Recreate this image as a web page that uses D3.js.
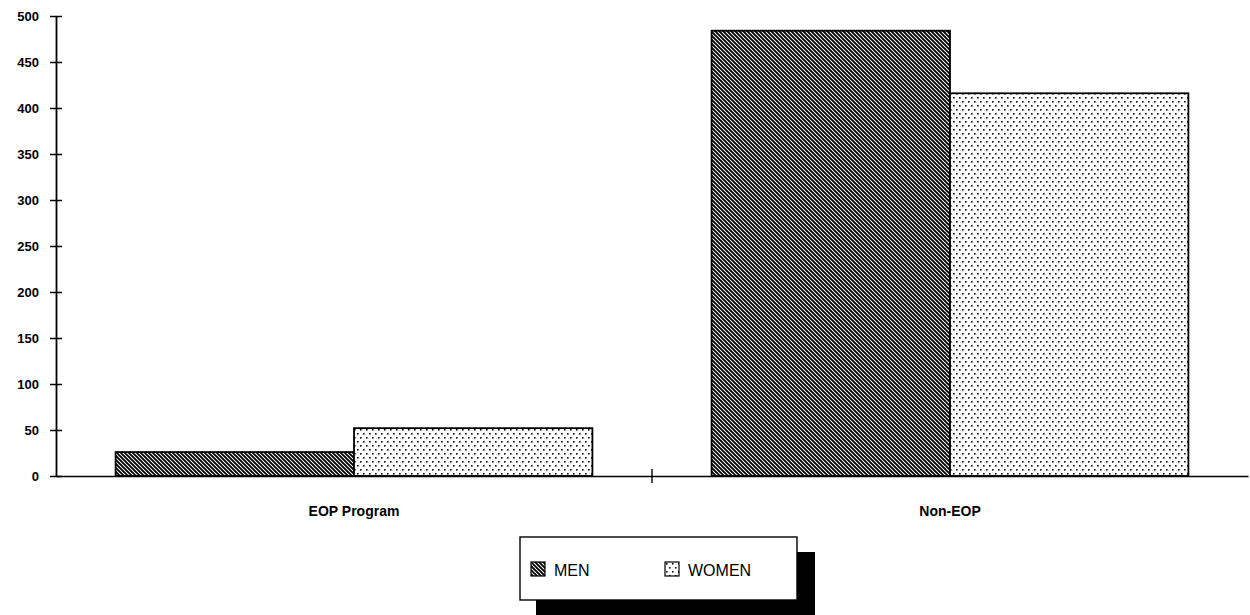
<!DOCTYPE html>
<html>
<head>
<script src="https://d3js.org/d3.v7.min.js"></script>
<style>
  body { margin: 0; background: #fff; }
  text { font-family: "Liberation Sans", Arial, sans-serif; }
</style>
</head>
<body>
<div id="chart"></div>
<script>
// data
var categories = ["EOP Program", "Non-EOP"];
var seriesNames = ["MEN", "WOMEN"];
var menValues = [26, 484];
var womenValues = [52, 416];
var yTicks = [0, 50, 100, 150, 200, 250, 300, 350, 400, 450, 500];

var W = 1250, H = 615;
var m = { left: 56, right: 2, top: 16, bottom: 139 };

var svg = d3.select("#chart").append("svg")
    .attr("width", W).attr("height", H);

var defs = svg.append("defs");

// diagonal hatch for MEN
var hatch = defs.append("pattern")
    .attr("id", "hatch")
    .attr("patternUnits", "userSpaceOnUse")
    .attr("width", 4).attr("height", 4);
hatch.append("rect").attr("width", 4).attr("height", 4).attr("fill", "#fff");
hatch.append("path")
    .attr("d", "M-1,-1 L5,5 M-1,3 L1,5 M3,-1 L5,1")
    .attr("stroke", "#000").attr("stroke-width", 1.9);

// dots for WOMEN
var dots = defs.append("pattern")
    .attr("id", "dots")
    .attr("patternUnits", "userSpaceOnUse")
    .attr("width", 6).attr("height", 8);
dots.append("rect").attr("width", 6).attr("height", 8).attr("fill", "#fff");
dots.append("rect").attr("x", 1).attr("y", 1).attr("width", 1.6).attr("height", 1.6).attr("fill", "#111");
dots.append("rect").attr("x", 4).attr("y", 5).attr("width", 1.6).attr("height", 1.6).attr("fill", "#111");

var x0 = d3.scaleBand()
    .domain(categories)
    .range([m.left, W - m.right])
    .paddingInner(0).paddingOuter(0);

var x1 = d3.scaleBand()
    .domain(seriesNames)
    .range([0, x0.bandwidth()])
    .paddingOuter(0.25).paddingInner(0);

var y = d3.scaleLinear()
    .domain([0, 500])
    .range([H - m.bottom, m.top]);

var fills = { MEN: "url(#hatch)", WOMEN: "url(#dots)" };

var data = categories.map(function(c, i) {
  return { cat: c, vals: [
    { key: "MEN", value: menValues[i] },
    { key: "WOMEN", value: womenValues[i] }
  ]};
});

var groups = svg.selectAll(".grp")
    .data(data).enter().append("g")
    .attr("transform", function(d) { return "translate(" + x0(d.cat) + ",0)"; });

groups.selectAll("rect")
    .data(function(d) { return d.vals; })
    .enter().append("rect")
    .attr("x", function(d) { return x1(d.key); })
    .attr("y", function(d) { return y(d.value); })
    .attr("width", x1.bandwidth())
    .attr("height", function(d) { return y(0) - y(d.value); })
    .attr("fill", function(d) { return fills[d.key]; })
    .attr("stroke", "#000")
    .attr("stroke-width", 1.8);

// y axis
var yAxis = svg.append("g")
    .attr("transform", "translate(" + m.left + ",0)")
    .call(d3.axisLeft(y).tickValues(yTicks).tickSize(0).tickPadding(17));
yAxis.select(".domain").attr("stroke-width", 1.8);
yAxis.selectAll(".tick line")
    .attr("x1", -6).attr("x2", 6).attr("stroke-width", 1.5);
yAxis.selectAll(".tick text")
    .attr("font-size", 13).attr("font-weight", "bold").attr("fill", "#000")
    .attr("font-family", "'Liberation Sans', Arial, sans-serif");

// x axis
var xAxis = svg.append("g")
    .attr("transform", "translate(0," + y(0) + ")")
    .call(d3.axisBottom(x0).tickSize(0).tickPadding(30));
xAxis.select(".domain").attr("stroke-width", 1.5);
xAxis.selectAll(".tick text")
    .attr("font-size", 14).attr("fill", "#000")
    .attr("font-family", "'Liberation Sans', Arial, sans-serif")
    .style("font-weight", "600");
// divider tick between categories
svg.append("line")
    .attr("x1", x0("Non-EOP")).attr("x2", x0("Non-EOP"))
    .attr("y1", y(0) - 7).attr("y2", y(0) + 7)
    .attr("stroke", "#000").attr("stroke-width", 1.4);

// legend
var lg = svg.append("g").attr("transform", "translate(520,537)");
lg.append("rect")
    .attr("x", 16).attr("y", 15).attr("width", 279).attr("height", 63)
    .attr("fill", "#000");
lg.append("rect")
    .attr("x", 0).attr("y", 0).attr("width", 277).attr("height", 63)
    .attr("fill", "#fff").attr("stroke", "#000").attr("stroke-width", 1.4);

var items = lg.selectAll(".item")
    .data(seriesNames).enter().append("g")
    .attr("transform", function(d, i) { return "translate(" + (11 + i * 134) + ",25)"; });
items.append("rect")
    .attr("width", 14).attr("height", 14)
    .attr("fill", function(d) { return fills[d]; })
    .attr("stroke", "#000").attr("stroke-width", 1.2);
items.append("text")
    .attr("x", 23).attr("y", 14)
    .attr("font-size", 16)
    .style("font-weight", "500")
    .text(function(d) { return d; });
</script>
</body>
</html>
